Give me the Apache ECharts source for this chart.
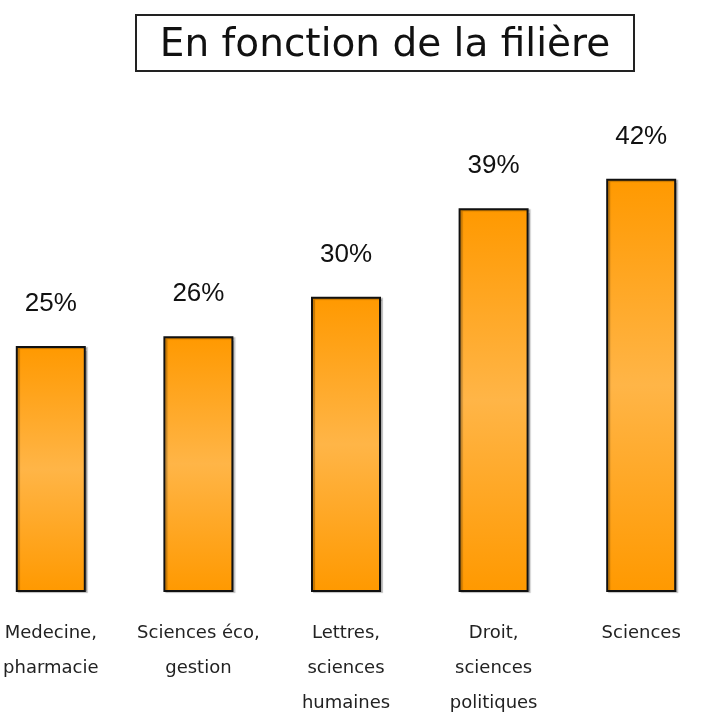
<!DOCTYPE html>
<html>
<head>
<meta charset="utf-8">
<title>En fonction de la filière</title>
<script src="https://cdn.jsdelivr.net/npm/echarts@6/dist/echarts.min.js"></script>
<style>
  html, body { margin: 0; padding: 0; background: #fff; }
  #chart { width: 702px; height: 714px; }
</style>
</head>
<body>
<div id="chart"></div>
<script>
// data
const categories = [
  'Medecine,\npharmacie',
  'Sciences éco,\ngestion',
  'Lettres,\nsciences\nhumaines',
  'Droit,\nsciences\npolitiques',
  'Sciences'
];
const values = [25, 26, 30, 39, 42];
const titleText = 'En fonction de la filière';

const chart = echarts.init(document.getElementById('chart'));

const barColor = new echarts.graphic.LinearGradient(0, 0, 0, 1, [
  { offset: 0, color: '#ff9900' },
  { offset: 0.5, color: '#ffb547' },
  { offset: 1, color: '#ff9900' }
]);

chart.setOption({
  animation: false,
  grid: {
    left: -23, right: -13, top: 100, bottom: 122,
    containLabel: false,
    outerBoundsMode: 'none'
  },
  graphic: [
    {
      type: 'rect',
      shape: { x: 136, y: 15, width: 498, height: 56 },
      style: { fill: '#fff', stroke: '#222', lineWidth: 2 }
    },
    {
      type: 'text',
      x: 385, y: 46,
      style: {
        text: titleText,
        fill: '#111',
        font: '39px "DejaVu Sans", sans-serif',
        align: 'center',
        verticalAlign: 'middle'
      }
    }
  ],
  xAxis: {
    type: 'category',
    data: categories,
    axisLine: { show: false },
    axisTick: { show: false },
    axisLabel: {
      margin: 24,
      color: '#222',
      fontSize: 18,
      lineHeight: 35,
      fontFamily: 'DejaVu Sans',
      interval: 0,
      hideOverlap: false
    }
  },
  yAxis: {
    type: 'value',
    min: 0,
    max: 50,
    show: false,
    splitLine: { show: false }
  },
  series: [{
    type: 'bar',
    data: values,
    barWidth: 70,
    itemStyle: {
      color: barColor,
      borderColor: '#111',
      borderWidth: 2,
      shadowColor: 'rgba(0,0,0,0.25)',
      shadowOffsetX: 2,
      shadowOffsetY: 1,
      shadowBlur: 1
    },
    label: {
      show: true,
      position: 'top',
      distance: 29,
      formatter: '{c}%',
      color: '#111',
      fontSize: 26,
      fontFamily: '"Liberation Sans", sans-serif'
    }
  }]
});
</script>
</body>
</html>
